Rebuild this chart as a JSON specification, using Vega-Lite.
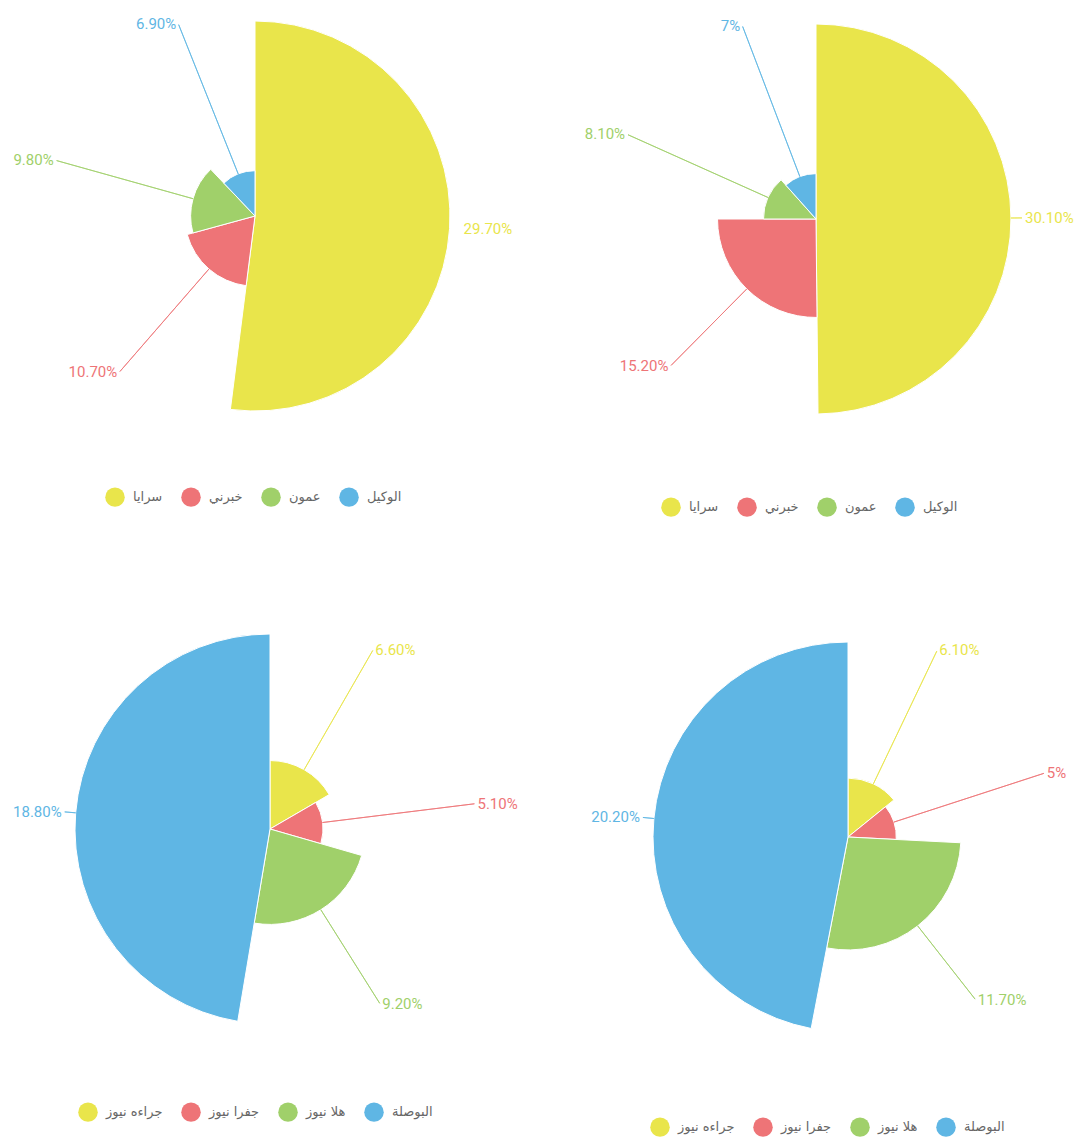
{
  "$schema": "https://vega.github.io/schema/vega-lite/v6.json",
  "background": "white",
  "padding": 5,
  "datasets": {
    "tl": [
      {"name": "سرايا", "value": 29.7, "label": "29.70%", "idx": 1},
      {"name": "خبرني", "value": 10.7, "label": "10.70%", "idx": 2},
      {"name": "عمون", "value": 9.8, "label": "9.80%", "idx": 3},
      {"name": "الوكيل", "value": 6.9, "label": "6.90%", "idx": 4}
    ],
    "tr": [
      {"name": "سرايا", "value": 30.1, "label": "30.10%", "idx": 1},
      {"name": "خبرني", "value": 15.2, "label": "15.20%", "idx": 2},
      {"name": "عمون", "value": 8.1, "label": "8.10%", "idx": 3},
      {"name": "الوكيل", "value": 7, "label": "7%", "idx": 4}
    ],
    "bl": [
      {"name": "جراءه نيوز", "value": 6.6, "label": "6.60%", "idx": 1},
      {"name": "جفرا نيوز", "value": 5.1, "label": "5.10%", "idx": 2},
      {"name": "هلا نيوز", "value": 9.2, "label": "9.20%", "idx": 3},
      {"name": "البوصلة", "value": 18.8, "label": "18.80%", "idx": 4}
    ],
    "br": [
      {"name": "جراءه نيوز", "value": 6.1, "label": "6.10%", "idx": 1},
      {"name": "جفرا نيوز", "value": 5, "label": "5%", "idx": 2},
      {"name": "هلا نيوز", "value": 11.7, "label": "11.70%", "idx": 3},
      {"name": "البوصلة", "value": 20.2, "label": "20.20%", "idx": 4}
    ]
  },
  "spacing": 101,
  "vconcat": [
    {
      "spacing": 53,
      "resolve": {"scale": {"color": "independent", "radius": "independent", "theta": "independent"}, "legend": {"color": "independent"}},
      "hconcat": [
        {
          "width": 500, "height": 422,
          "data": {"name": "tl"},
          "encoding": {
            "theta": {"field": "value", "type": "quantitative", "stack": true},
            "order": {"field": "idx", "type": "quantitative"},
            "color": {"field": "name", "type": "nominal",
              "scale": {"domain": ["سرايا", "خبرني", "عمون", "الوكيل"], "range": ["#e9e54b", "#ee7477", "#a0d06a", "#5fb6e4"]},
              "legend": {"orient": "none", "legendX": 100, "legendY": 482}}
          },
          "layer": [
            {"mark": {"type": "arc", "stroke": "#ffffff", "strokeWidth": 1},
             "encoding": {"radius": {"field": "value", "type": "quantitative", "scale": {"type": "linear", "zero": true, "range": [0, 195]}}}},
            {"mark": {"type": "arc", "filled": false, "strokeWidth": 1, "padAngle": 3.14159, "radius2": 206},
             "encoding": {"radius": {"field": "value", "type": "quantitative"},
               "strokeOpacity": {"condition": {"test": "datum.value > 25", "value": 0}, "value": 0.8}}},
            {"mark": {"type": "text", "radius": 207, "fontSize": 15, "font": "Roboto", "align": "left", "baseline": "middle", "dx": 2},
             "encoding": {"text": {"field": "label", "type": "nominal"},
               "opacity": {"condition": {"test": "datum.name === 'سرايا'", "value": 1}, "value": 0}}},
            {"mark": {"type": "text", "radius": 207, "fontSize": 15, "font": "Roboto", "align": "right", "baseline": "middle", "dx": -2},
             "encoding": {"text": {"field": "label", "type": "nominal"},
               "opacity": {"condition": {"test": "datum.name === 'سرايا'", "value": 0}, "value": 1}}}
          ]
        },
        {
          "width": 500, "height": 428,
          "data": {"name": "tr"},
          "encoding": {
            "theta": {"field": "value", "type": "quantitative", "stack": true},
            "order": {"field": "idx", "type": "quantitative"},
            "color": {"field": "name", "type": "nominal",
              "scale": {"domain": ["سرايا", "خبرني", "عمون", "الوكيل"], "range": ["#e9e54b", "#ee7477", "#a0d06a", "#5fb6e4"]},
              "legend": {"orient": "none", "legendX": 95, "legendY": 492}}
          },
          "layer": [
            {"mark": {"type": "arc", "stroke": "#ffffff", "strokeWidth": 1},
             "encoding": {"radius": {"field": "value", "type": "quantitative", "scale": {"type": "linear", "zero": true, "range": [0, 195]}}}},
            {"mark": {"type": "arc", "filled": false, "strokeWidth": 1, "padAngle": 3.14159, "radius2": 206},
             "encoding": {"radius": {"field": "value", "type": "quantitative"},
               "strokeOpacity": {"value": 0.8}}},
            {"mark": {"type": "text", "radius": 207, "fontSize": 15, "font": "Roboto", "align": "left", "baseline": "middle", "dx": 2},
             "encoding": {"text": {"field": "label", "type": "nominal"},
               "opacity": {"condition": {"test": "datum.name === 'سرايا'", "value": 1}, "value": 0}}},
            {"mark": {"type": "text", "radius": 207, "fontSize": 15, "font": "Roboto", "align": "right", "baseline": "middle", "dx": -2},
             "encoding": {"text": {"field": "label", "type": "nominal"},
               "opacity": {"condition": {"test": "datum.name === 'سرايا'", "value": 0}, "value": 1}}}
          ]
        }
      ]
    },
    {
      "spacing": 56,
      "resolve": {"scale": {"color": "independent", "radius": "independent", "theta": "independent"}, "legend": {"color": "independent"}},
      "hconcat": [
        {
          "width": 530, "height": 422,
          "data": {"name": "bl"},
          "encoding": {
            "theta": {"field": "value", "type": "quantitative", "stack": true},
            "order": {"field": "idx", "type": "quantitative"},
            "color": {"field": "name", "type": "nominal",
              "scale": {"domain": ["جراءه نيوز", "جفرا نيوز", "هلا نيوز", "البوصلة"], "range": ["#e9e54b", "#ee7477", "#a0d06a", "#5fb6e4"]},
              "legend": {"orient": "none", "legendX": 73, "legendY": 484}}
          },
          "layer": [
            {"mark": {"type": "arc", "stroke": "#ffffff", "strokeWidth": 1},
             "encoding": {"radius": {"field": "value", "type": "quantitative", "scale": {"type": "linear", "zero": true, "range": [0, 195]}}}},
            {"mark": {"type": "arc", "filled": false, "strokeWidth": 1, "padAngle": 3.14159, "radius2": 206},
             "encoding": {"radius": {"field": "value", "type": "quantitative"},
               "strokeOpacity": {"value": 0.8}}},
            {"mark": {"type": "text", "radius": 207, "fontSize": 15, "font": "Roboto", "align": "left", "baseline": "middle", "dx": 2},
             "encoding": {"text": {"field": "label", "type": "nominal"},
               "opacity": {"condition": {"test": "datum.name === 'البوصلة'", "value": 0}, "value": 1}}},
            {"mark": {"type": "text", "radius": 207, "fontSize": 15, "font": "Roboto", "align": "right", "baseline": "middle", "dx": -2},
             "encoding": {"text": {"field": "label", "type": "nominal"},
               "opacity": {"condition": {"test": "datum.name === 'البوصلة'", "value": 1}, "value": 0}}}
          ]
        },
        {
          "width": 500, "height": 438,
          "data": {"name": "br"},
          "encoding": {
            "theta": {"field": "value", "type": "quantitative", "stack": true},
            "order": {"field": "idx", "type": "quantitative"},
            "color": {"field": "name", "type": "nominal",
              "scale": {"domain": ["جراءه نيوز", "جفرا نيوز", "هلا نيوز", "البوصلة"], "range": ["#e9e54b", "#ee7477", "#a0d06a", "#5fb6e4"]},
              "legend": {"orient": "none", "legendX": 52, "legendY": 499}}
          },
          "layer": [
            {"mark": {"type": "arc", "stroke": "#ffffff", "strokeWidth": 1},
             "encoding": {"radius": {"field": "value", "type": "quantitative", "scale": {"type": "linear", "zero": true, "range": [0, 195]}}}},
            {"mark": {"type": "arc", "filled": false, "strokeWidth": 1, "padAngle": 3.14159, "radius2": 206},
             "encoding": {"radius": {"field": "value", "type": "quantitative"},
               "strokeOpacity": {"value": 0.8}}},
            {"mark": {"type": "text", "radius": 207, "fontSize": 15, "font": "Roboto", "align": "left", "baseline": "middle", "dx": 2},
             "encoding": {"text": {"field": "label", "type": "nominal"},
               "opacity": {"condition": {"test": "datum.name === 'البوصلة'", "value": 0}, "value": 1}}},
            {"mark": {"type": "text", "radius": 207, "fontSize": 15, "font": "Roboto", "align": "right", "baseline": "middle", "dx": -2},
             "encoding": {"text": {"field": "label", "type": "nominal"},
               "opacity": {"condition": {"test": "datum.name === 'البوصلة'", "value": 1}, "value": 0}}}
          ]
        }
      ]
    }
  ],
  "config": {
    "view": {"stroke": null},
    "legend": {"direction": "horizontal", "title": null, "symbolType": "circle", "symbolSize": 380, "symbolStrokeWidth": 0, "symbolOpacity": 1, "labelFont": "DejaVu Sans", "labelFontSize": 13, "labelColor": "#666", "labelOffset": 8, "columnPadding": 18, "labelLimit": 200}
  }
}
